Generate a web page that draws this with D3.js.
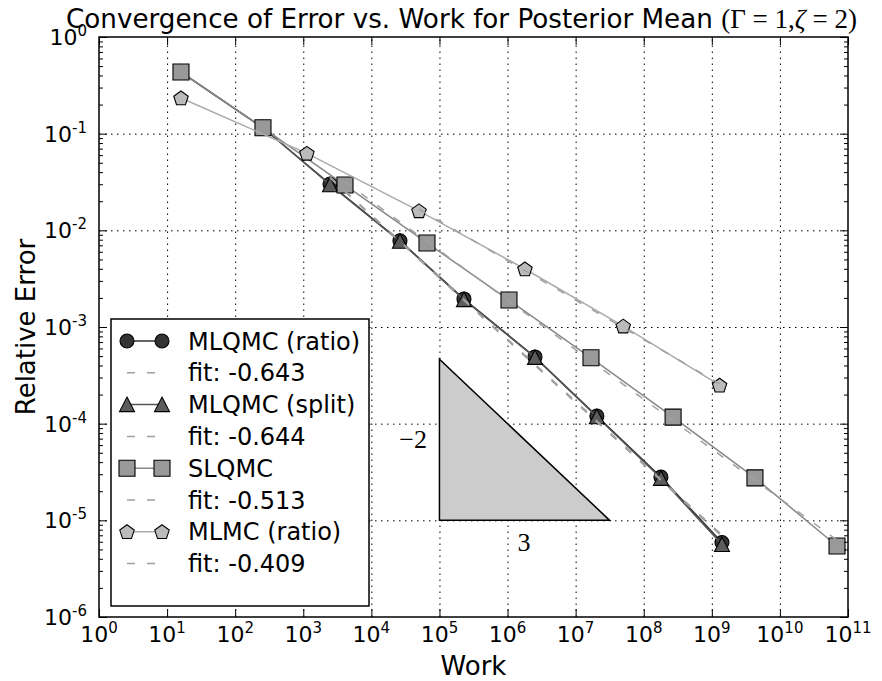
<!DOCTYPE html>
<html>
<head>
<meta charset="utf-8">
<script src="https://cdn.jsdelivr.net/npm/d3@7"></script>
<style>
    body { margin: 0; background: #fff; }
    text { font-family: "DejaVu Sans", sans-serif; fill: #000; }
</style>
</head>
<body>
<div id="canvas"></div>
<script>
/**
 * Data
 */
const ratioWork = [16, 256, 2470, 26300, 229000, 2530000, 20500000, 179000000, 1410000000];
const ratioErr = [0.434, 0.115, 0.0301, 0.0078, 0.00195, 0.00049, 0.00012, 0.000028, 0.0000059];
const splitWork = [16, 256, 2470, 26300, 229000, 2530000, 20500000, 179000000, 1410000000];
const splitErr = [0.434, 0.115, 0.0296, 0.0077, 0.00192, 0.000485, 0.000118, 0.0000272, 0.00000562];
const slqmcWork = [16, 256, 4100, 65600, 1050000, 16800000, 270000000, 4300000000, 69000000000];
const slqmcErr = [0.434, 0.115, 0.0294, 0.0074, 0.0019, 0.00048, 0.000117, 0.0000275, 0.00000543];
const mlmcWork = [16, 1130, 50000, 1800000, 50000000, 1300000000];
const mlmcErr = [0.234, 0.0626, 0.0159, 0.00398, 0.00102, 0.00025];

// fitted lines (end points)
const ratioFitWork = [2470, 1410000000];
const ratioFitErr = [0.0355, 0.00000706];
const splitFitWork = [2470, 1410000000];
const splitFitErr = [0.0348, 0.00000682];
const slqmcFitWork = [4100, 69000000000];
const slqmcFitErr = [0.0318, 0.00000624];
const mlmcFitWork = [50000, 1300000000];
const mlmcFitErr = [0.0166, 0.000259];

const seriesNames = ["MLQMC (ratio)", "MLQMC (split)", "SLQMC", "MLMC (ratio)"];
const fitLabels = ["fit: -0.643", "fit: -0.644", "fit: -0.513", "fit: -0.409"];

// slope triangle
const triWork = [100000, 31600000, 100000];
const triErr = [0.00001, 0.00001, 0.000464];

const xExps = [0, 1, 2, 3, 4, 5, 6, 7, 8, 9, 10, 11];
const yExps = [-6, -5, -4, -3, -2, -1, 0];

/**
 * Helpers
 */
const zip = (a, b) => a.map((v, i) => [v, b[i]]);

function markerPath(shape) {
    if (shape === "circle") return d3.symbol(d3.symbolCircle, 154)();
    if (shape === "square") return "M-8,-8H8V8H-8Z";
    if (shape === "triangle") return "M0,-7.5L7.5,7L-7.5,7Z";
    // pentagon, point up
    let pts = [];
    for (let k = 0; k < 5; k++) {
        let a = -Math.PI / 2 + k * 2 * Math.PI / 5;
        pts.push([7.6 * Math.cos(a), 7.6 * Math.sin(a) + 0.6]);
    }
    return "M" + pts.map(p => p[0].toFixed(2) + "," + p[1].toFixed(2)).join("L") + "Z";
}

const series = [
    {data: zip(ratioWork, ratioErr), fit: zip(ratioFitWork, ratioFitErr), shape: "circle", face: "#333", line: "#333"},
    {data: zip(splitWork, splitErr), fit: zip(splitFitWork, splitFitErr), shape: "triangle", face: "#5c5c5c", line: "#555"},
    {data: zip(slqmcWork, slqmcErr), fit: zip(slqmcFitWork, slqmcFitErr), shape: "square", face: "#999", line: "#888"},
    {data: zip(mlmcWork, mlmcErr), fit: zip(mlmcFitWork, mlmcFitErr), shape: "pentagon", face: "#bbb", line: "#aaa"}
];
const fitColor = "#a0a0a0";
const fitDash = "8,12";

/**
 * Chart
 */
const plotLeft = 99, plotRight = 848, plotTop = 37, plotBottom = 617;

let svg = d3.select("#canvas")
    .append("svg")
    .attr("width", 882)
    .attr("height", 681);

let x = d3.scaleLog().domain([1, 1e11]).range([plotLeft, plotRight]);
let y = d3.scaleLog().domain([1e-6, 1]).range([plotBottom, plotTop]);

const xMajor = xExps.map(e => Math.pow(10, e));
const yMajor = yExps.map(e => Math.pow(10, e));
let yMinor = [];
yExps.slice(0, -1).forEach(e => {
    for (let m = 2; m <= 9; m++) yMinor.push(m * Math.pow(10, e));
});

// grid
svg.append("g")
    .attr("class", "grid")
    .attr("transform", "translate(0," + plotBottom + ")")
    .call(d3.axisBottom(x).tickValues(xMajor.slice(1, -1)).tickSize(-(plotBottom - plotTop)).tickFormat(""))
    .call(g => g.select(".domain").remove());
svg.append("g")
    .attr("class", "grid")
    .attr("transform", "translate(" + plotLeft + ",0)")
    .call(d3.axisLeft(y).tickValues(yMajor.slice(1, -1)).tickSize(-(plotRight - plotLeft)).tickFormat(""))
    .call(g => g.select(".domain").remove());
svg.selectAll(".grid .tick line")
    .attr("stroke", "#000")
    .attr("stroke-width", 1)
    .attr("stroke-dasharray", "1.5,4.5");

// slope triangle
svg.append("path")
    .datum(zip(triWork, triErr))
    .attr("d", d3.line().x(d => x(d[0])).y(d => y(d[1])).curve(d3.curveLinearClosed))
    .attr("fill", "#cccccc")
    .attr("stroke", "#000")
    .attr("stroke-width", 1.5);
svg.append("text")
    .attr("x", 427).attr("y", 448)
    .attr("text-anchor", "end")
    .style("font-family", "'Liberation Serif', serif")
    .style("font-size", "26px")
    .text("\u22122");
svg.append("text")
    .attr("x", 524).attr("y", 551)
    .attr("text-anchor", "middle")
    .style("font-family", "'Liberation Serif', serif")
    .style("font-size", "26px")
    .text("3");

// data lines and markers
let lineGen = d3.line().x(d => x(d[0])).y(d => y(d[1]));
series.forEach(s => {
    svg.append("path")
        .datum(s.data)
        .attr("d", lineGen)
        .attr("fill", "none")
        .attr("stroke", s.line)
        .attr("stroke-width", 1.5);
    svg.append("g")
        .selectAll("path")
        .data(s.data)
        .enter()
        .append("path")
        .attr("transform", d => "translate(" + x(d[0]) + "," + y(d[1]) + ")")
        .attr("d", markerPath(s.shape))
        .attr("fill", s.face)
        .attr("stroke", "#000")
        .attr("stroke-width", 1.1);
});
series.forEach(s => {
    svg.append("path")
        .datum(s.fit)
        .attr("d", lineGen)
        .attr("fill", "none")
        .attr("stroke", fitColor)
        .attr("stroke-width", 1.5)
        .attr("stroke-dasharray", fitDash);
});

// axes with inward ticks
function styleAxis(g) {
    g.select(".domain").remove();
    g.selectAll(".tick line").attr("stroke", "#000").attr("stroke-width", 1);
}
svg.append("g").attr("transform", "translate(0," + plotBottom + ")")
    .call(d3.axisBottom(x).tickValues(xMajor).tickSize(-8).tickFormat("")).call(styleAxis);
svg.append("g").attr("transform", "translate(0," + plotTop + ")")
    .call(d3.axisTop(x).tickValues(xMajor).tickSize(-8).tickFormat("")).call(styleAxis);
svg.append("g").attr("transform", "translate(" + plotLeft + ",0)")
    .call(d3.axisLeft(y).tickValues(yMajor).tickSize(-8).tickFormat("")).call(styleAxis);
svg.append("g").attr("transform", "translate(" + plotLeft + ",0)")
    .call(d3.axisLeft(y).tickValues(yMinor).tickSize(-4).tickFormat("")).call(styleAxis);
svg.append("g").attr("transform", "translate(" + plotRight + ",0)")
    .call(d3.axisRight(y).tickValues(yMajor).tickSize(-8).tickFormat("")).call(styleAxis);
svg.append("g").attr("transform", "translate(" + plotRight + ",0)")
    .call(d3.axisRight(y).tickValues(yMinor).tickSize(-4).tickFormat("")).call(styleAxis);

svg.append("rect")
    .attr("x", plotLeft).attr("y", plotTop)
    .attr("width", plotRight - plotLeft).attr("height", plotBottom - plotTop)
    .attr("fill", "none")
    .attr("stroke", "#000")
    .attr("stroke-width", 1.5);

// tick labels: 10 with superscript
xExps.forEach(e => {
    let t = svg.append("text")
        .attr("x", x(Math.pow(10, e)))
        .attr("y", 642)
        .attr("text-anchor", "middle")
        .style("font-size", "22px");
    t.append("tspan").text("10");
    t.append("tspan").attr("dy", -9).style("font-size", "15px").text(e);
});
yExps.forEach(e => {
    let t = svg.append("text")
        .attr("x", 87)
        .attr("y", y(Math.pow(10, e)) + 8)
        .attr("text-anchor", "end")
        .style("font-size", "22px");
    t.append("tspan").text("10");
    t.append("tspan").attr("dy", -9).style("font-size", "15px").text(e);
});

// axis labels and title
svg.append("text")
    .attr("x", (plotLeft + plotRight) / 2).attr("y", 675)
    .attr("text-anchor", "middle")
    .style("font-size", "26px")
    .text("Work");
svg.append("text")
    .attr("transform", "translate(35," + ((plotTop + plotBottom) / 2) + ") rotate(-90)")
    .attr("text-anchor", "middle")
    .style("font-size", "26px")
    .text("Relative Error");

let title = svg.append("text")
    .attr("x", 66).attr("y", 28)
    .style("font-size", "26.2px");
title.append("tspan").text("Convergence of Error vs. Work for Posterior Mean ");
let math = title.append("tspan").style("font-family", "'Liberation Serif', serif").style("font-size", "27px");
math.append("tspan").text("(\u0393 = 1,");
math.append("tspan").style("font-style", "italic").text("\u03b6");
math.append("tspan").text(" = 2)");

// legend
let legend = svg.append("g");
legend.append("rect")
    .attr("x", 111).attr("y", 319)
    .attr("width", 258).attr("height", 287)
    .attr("fill", "#fff")
    .attr("stroke", "#000")
    .attr("stroke-width", 1.5);

let rowY = 341, rowStep = 31.8;
series.forEach((s, i) => {
    let yy = rowY + 2 * i * rowStep;
    legend.append("line")
        .attr("x1", 127).attr("x2", 162)
        .attr("y1", yy).attr("y2", yy)
        .attr("stroke", s.line)
        .attr("stroke-width", 1.5);
    [127, 162].forEach(px => {
        legend.append("path")
            .attr("transform", "translate(" + px + "," + yy + ")")
            .attr("d", markerPath(s.shape))
            .attr("fill", s.face)
            .attr("stroke", "#000")
            .attr("stroke-width", 1.1);
    });
    legend.append("text")
        .attr("x", 188).attr("y", yy + 8.5)
        .style("font-size", "24px")
        .text(seriesNames[i]);

    let fy = yy + rowStep;
    legend.append("line")
        .attr("x1", 127).attr("x2", 162)
        .attr("y1", fy).attr("y2", fy)
        .attr("stroke", fitColor)
        .attr("stroke-width", 1.5)
        .attr("stroke-dasharray", fitDash);
    legend.append("text")
        .attr("x", 188).attr("y", fy + 8.5)
        .style("font-size", "24px")
        .text(fitLabels[i]);
});
</script>
</body>
</html>
